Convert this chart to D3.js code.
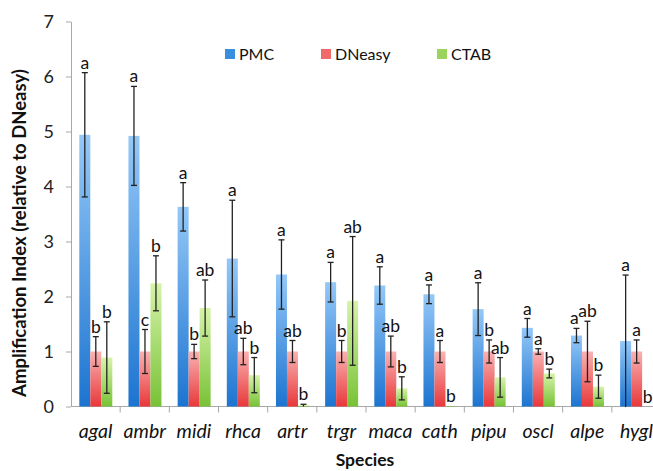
<!DOCTYPE html>
<html>
<head>
<meta charset="utf-8">
<script src="https://cdn.jsdelivr.net/npm/d3@7"></script>
<style>
  body { margin: 0; background: #fff; }
  svg { font-family: Lato, "Open Sans", sans-serif; }
</style>
</head>
<body>
<svg id="chart"></svg>
<script>
// data
const species = ["agal", "ambr", "midi", "rhca", "artr", "trgr", "maca", "cath", "pipu", "oscl", "alpe", "hygl"];
const seriesNames = ["PMC", "DNeasy", "CTAB"];

const pmc = [4.94, 4.92, 3.63, 2.69, 2.40, 2.26, 2.20, 2.04, 1.77, 1.43, 1.29, 1.19];
const pmcErr = [1.13, 0.90, 0.44, 1.06, 0.63, 0.36, 0.34, 0.17, 0.48, 0.17, 0.13, 1.20];
const dneasy = [1, 1, 1, 1, 1, 1, 1, 1, 1, 1, 1, 1];
const dneasyErr = [0.27, 0.40, 0.13, 0.24, 0.20, 0.20, 0.28, 0.20, 0.21, 0.05, 0.55, 0.21];
const ctab = [0.89, 2.24, 1.79, 0.57, 0.02, 1.92, 0.33, 0.01, 0.53, 0.60, 0.36, 0.0];
const ctabErr = [0.65, 0.50, 0.51, 0.32, 0.02, 1.17, 0.21, 0.0, 0.36, 0.08, 0.21, 0.0];

const pmcLetters = ["a", "a", "a", "a", "a", "a", "a", "a", "a", "a", "a", "a"];
const dneasyLetters = ["b", "c", "b", "ab", "ab", "b", "ab", "a", "b", "a", "ab", "a"];
const ctabLetters = ["b", "b", "ab", "b", "b", "ab", "b", "b", "ab", "b", "b", "b"];

const yTicks = [0, 1, 2, 3, 4, 5, 6, 7];

const width = 653, height = 471;
const svg = d3.select("#chart").attr("width", width).attr("height", height);

const x0 = d3.scaleBand().domain(species).range([71, 661]);
const x1 = d3.scaleBand().domain(seriesNames).range([8.3, 41.3]);
const y = d3.scaleLinear().domain([0, 7]).range([406.5, 21.5]);

// gradients for the bars
const defs = svg.append("defs");
const grads = [
  { id: "gPMC", top: "#94c8f8", bottom: "#1c74d0" },
  { id: "gDNeasy", top: "#f9b2b2", bottom: "#e8383a" },
  { id: "gCTAB", top: "#d6f3aa", bottom: "#78c236" }
];
grads.forEach(g => {
  const lg = defs.append("linearGradient").attr("id", g.id)
    .attr("x1", 0).attr("y1", 0).attr("x2", 0).attr("y2", 1);
  lg.append("stop").attr("offset", "0%").attr("stop-color", g.top);
  lg.append("stop").attr("offset", "100%").attr("stop-color", g.bottom);
});
const fills = { PMC: "url(#gPMC)", DNeasy: "url(#gDNeasy)", CTAB: "url(#gCTAB)" };
const legendFill = { PMC: "#3a8ee0", DNeasy: "#f06a6a", CTAB: "#9ad45c" };

const rows = [];
species.forEach((s, i) => {
  rows.push({ sp: s, series: "PMC", v: pmc[i], e: pmcErr[i], l: pmcLetters[i] });
  rows.push({ sp: s, series: "DNeasy", v: dneasy[i], e: dneasyErr[i], l: dneasyLetters[i] });
  rows.push({ sp: s, series: "CTAB", v: ctab[i], e: ctabErr[i], l: ctabLetters[i] });
});

// y axis
const yAxis = d3.axisLeft(y).tickValues(yTicks).tickFormat(d3.format("d"))
  .tickSize(5).tickSizeOuter(0).tickPadding(12);
const gy = svg.append("g").attr("transform", "translate(71,0)").call(yAxis);
gy.select(".domain").attr("stroke", "#a8a8a8");
gy.selectAll(".tick line").attr("stroke", "#a8a8a8");
gy.selectAll(".tick text").attr("font-size", 18).attr("fill", "#222").attr("font-family", "Lato, sans-serif");

// x axis: ticks at category boundaries
svg.append("line").attr("x1", 71).attr("x2", width).attr("y1", y(0)).attr("y2", y(0))
  .attr("stroke", "#a8a8a8");
svg.selectAll(".xtick").data(species).enter().append("line")
  .attr("x1", d => x0(d) + x0.bandwidth()).attr("x2", d => x0(d) + x0.bandwidth())
  .attr("y1", y(0)).attr("y2", y(0) + 6).attr("stroke", "#a8a8a8");
svg.selectAll(".xlab").data(species).enter().append("text")
  .attr("x", d => x0(d) + x0.bandwidth() / 2).attr("y", 438)
  .attr("text-anchor", "middle").attr("font-size", 19.5).attr("font-style", "italic")
  .attr("fill", "#111").text(d => d);

// bars
const barW = x1.bandwidth();
svg.selectAll(".bar").data(rows).enter().append("rect")
  .attr("x", d => x0(d.sp) + x1(d.series))
  .attr("y", d => y(d.v))
  .attr("width", barW)
  .attr("height", d => y(0) - y(d.v))
  .attr("fill", d => fills[d.series]);

// error bars
const withErr = rows.filter(d => d.e > 0);
const cx = d => x0(d.sp) + x1(d.series) + barW / 2;
svg.selectAll(".err").data(withErr).enter().append("line")
  .attr("x1", cx).attr("x2", cx)
  .attr("y1", d => y(d.v + d.e)).attr("y2", d => y(Math.max(d.v - d.e, -0.01)))
  .attr("stroke", "#222").attr("stroke-width", 1.3);
svg.selectAll(".capT").data(withErr).enter().append("line")
  .attr("x1", d => cx(d) - 3).attr("x2", d => cx(d) + 3)
  .attr("y1", d => y(d.v + d.e)).attr("y2", d => y(d.v + d.e))
  .attr("stroke", "#222").attr("stroke-width", 1.3);
svg.selectAll(".capB").data(withErr.filter(d => d.v - d.e > 0.02)).enter().append("line")
  .attr("x1", d => cx(d) - 3).attr("x2", d => cx(d) + 3)
  .attr("y1", d => y(d.v - d.e)).attr("y2", d => y(d.v - d.e))
  .attr("stroke", "#222").attr("stroke-width", 1.3);

// significance letters
svg.selectAll(".sig").data(rows).enter().append("text")
  .attr("x", d => cx(d) + (d.sp === "alpe" && d.series === "PMC" ? -2 : 0))
  .attr("y", d => y(d.v + d.e) - 4)
  .attr("text-anchor", "middle").attr("font-size", 17.5).attr("fill", "#111")
  .text(d => d.l);

// legend
const legendX = { PMC: 225, DNeasy: 321, CTAB: 437 };
const lg = svg.append("g");
seriesNames.forEach(s => {
  lg.append("rect").attr("x", legendX[s]).attr("y", 49).attr("width", 10).attr("height", 10)
    .attr("fill", legendFill[s]);
  lg.append("text").attr("x", legendX[s] + 14).attr("y", 59.5)
    .attr("font-size", 16).attr("fill", "#111").text(s);
});

// axis titles
svg.append("text")
  .attr("transform", "translate(26,233) rotate(-90)")
  .attr("text-anchor", "middle").attr("font-size", 18.5).attr("font-weight", "bold")
  .attr("fill", "#111").text("Amplification Index (relative to DNeasy)");
svg.append("text")
  .attr("x", 365).attr("y", 466)
  .attr("text-anchor", "middle").attr("font-size", 17.5).attr("font-weight", "bold")
  .attr("fill", "#111").text("Species");
</script>
</body>
</html>
